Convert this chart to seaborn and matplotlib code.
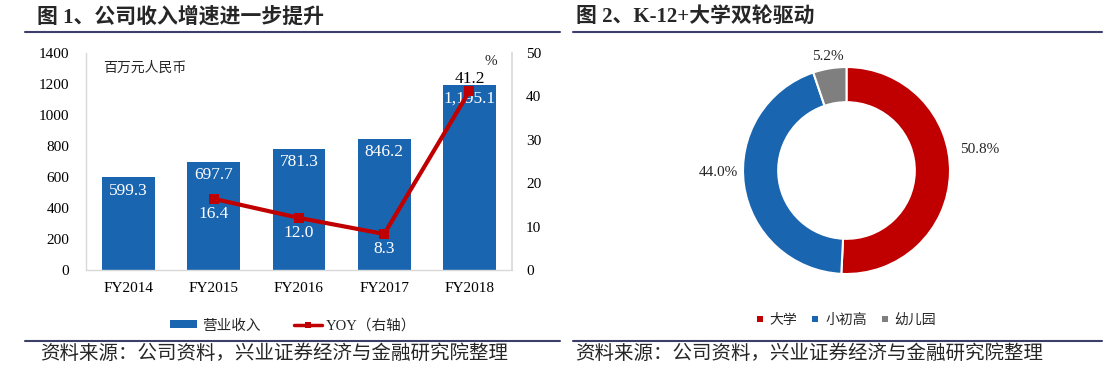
import numpy as np
import matplotlib
matplotlib.use("Agg")
import matplotlib.pyplot as plt
import seaborn as sns
from matplotlib.lines import Line2D
from matplotlib.patches import Patch

# chart data
years = ["FY2014", "FY2015", "FY2016", "FY2017", "FY2018"]
revenue = [599.3, 697.7, 781.3, 846.2, 1195.1]
revenue_labels = ["599.3", "697.7", "781.3", "846.2", "1,195.1"]
yoy_years = ["FY2015", "FY2016", "FY2017", "FY2018"]
yoy = [16.4, 12.0, 8.3, 41.2]

segments = ["大学", "小初高", "幼儿园"]
shares = [50.8, 44.0, 5.2]

left_ticks = [0, 200, 400, 600, 800, 1000, 1200, 1400]
right_ticks = [0, 10, 20, 30, 40, 50]

title_1 = "图 1、公司收入增速进一步提升"
title_2 = "图 2、K-12+大学双轮驱动"
source = "资料来源：公司资料，兴业证券经济与金融研究院整理"

sns.set_theme(style="white")
plt.rcParams["font.family"] = ["Liberation Serif", "Noto Sans CJK SC"]

BLUE = "#1A65B0"
RED = "#C00000"
GRAY = "#7F7F7F"
SPINE = "#D9D9D9"
RULE = "#3D3F6B"

W, H = 1116, 368
fig = plt.figure(figsize=(W / 100, H / 100), dpi=100)


def box(x0, y0, x1, y1):
    # pixel box (top-left origin) -> figure fraction
    return [x0 / W, 1 - y1 / H, (x1 - x0) / W, (y1 - y0) / H]


# ---------- left: revenue bars + YOY line ----------
ax = fig.add_axes(box(86, 53, 512, 270))
sns.barplot(x=years, y=revenue, color=BLUE, width=0.62, linewidth=0, saturation=1, ax=ax)
ax.set_xlim(-0.5, len(years) - 0.5)
ax.set_ylim(0, 1400)
ax.set_yticks(left_ticks)
ax.set_xlabel("")
ax.set_ylabel("")
ax.tick_params(axis="both", length=0, labelsize=11, colors="black")
ax.tick_params(axis="y", pad=12)
ax.tick_params(axis="x", pad=9)
for s in ["top", "right"]:
    ax.spines[s].set_visible(False)
for s in ["left", "bottom"]:
    ax.spines[s].set_color(SPINE)
    ax.spines[s].set_linewidth(1)

for i, (v, lab) in enumerate(zip(revenue, revenue_labels)):
    ax.annotate(lab, (i, v), xytext=(0, -4), textcoords="offset points",
                ha="center", va="top", color="white", fontsize=12.5)

ax.text(0.04, 0.93, "百万元人民币", transform=ax.transAxes, fontsize=10,
        ha="left", va="center")

ax2 = ax.twinx()
xpos = [years.index(y) for y in yoy_years]
sns.lineplot(x=xpos, y=yoy, color=RED, linewidth=3, marker="s", markersize=7,
             markeredgewidth=0, ax=ax2)
ax2.set_xlim(-0.5, len(years) - 0.5)
ax2.set_ylim(0, 50)
ax2.set_yticks(right_ticks)
ax2.set_ylabel("")
ax2.tick_params(axis="y", length=0, labelsize=11, pad=10, colors="black")
for s in ["top", "left", "bottom"]:
    ax2.spines[s].set_visible(False)
ax2.spines["right"].set_color(SPINE)
top_i = int(np.argmax(yoy))
for i, (x, v) in enumerate(zip(xpos, yoy)):
    if i == top_i:
        ax2.annotate(f"{v:.1f}", (x, v), xytext=(0, 3), textcoords="offset points",
                     ha="center", va="bottom", color="black", fontsize=12.5)
    else:
        ax2.annotate(f"{v:.1f}", (x, v), xytext=(0, -5), textcoords="offset points",
                     ha="center", va="top", color="white", fontsize=12.5)
ax2.text(0.95, 0.96, "%", transform=ax2.transAxes, fontsize=11, ha="center", va="center")

fig.legend(
    handles=[Patch(facecolor=BLUE, edgecolor="none"),
             Line2D([], [], color=RED, lw=2.5, marker="s", markersize=5, markeredgewidth=0)],
    labels=["营业收入", "YOY（右轴）"],
    loc="center", bbox_to_anchor=(293 / W, 1 - 325.5 / H), ncol=2, frameon=False,
    fontsize=10.5, handlelength=1.9, handleheight=0.5, handletextpad=0.3, columnspacing=2.3,
)

# ---------- right: donut ----------
cx, cy, r = 846.5, 170.5, 103.5
axp = fig.add_axes(box(cx - r, cy - r, cx + r, cy + r))
wedges, _ = axp.pie(shares, colors=[RED, BLUE, GRAY], startangle=90, counterclock=False,
                    radius=1, wedgeprops=dict(width=0.34, edgecolor="white", linewidth=1.5))
axp.set_xlim(-1, 1)
axp.set_ylim(-1, 1)
axp.set_aspect("equal")
label_dist = [1.30, 1.24, 1.12]
angle_shift = [10.6, -7.0, 0.0]
for w, v, d, da in zip(wedges, shares, label_dist, angle_shift):
    ang = np.deg2rad((w.theta1 + w.theta2) / 2 + da)
    axp.text(d * np.cos(ang), d * np.sin(ang), f"{v:.1f}%", ha="center", va="center",
             fontsize=11, color="#262626")

fig.legend(
    handles=[Line2D([], [], ls="", marker="s", markersize=4.5, color=c, markeredgewidth=0)
             for c in [RED, BLUE, GRAY]],
    labels=segments, loc="center", bbox_to_anchor=(846 / W, 1 - 320 / H), ncol=3,
    frameon=False, fontsize=10, handlelength=0.6, handletextpad=0.4, columnspacing=1.0,
)

# ---------- titles, rules, sources ----------
fig.text(37 / W, 1 - 17 / H, title_1, fontsize=15, fontweight="bold", ha="left", va="center")
fig.text(576 / W, 1 - 17 / H, title_2, fontsize=15, fontweight="bold", ha="left", va="center")
for x0, x1 in [(25, 560), (573, 1102)]:
    for y in [32, 341]:
        fig.add_artist(Line2D([x0 / W, x1 / W], [1 - y / H, 1 - y / H],
                              transform=fig.transFigure, color=RULE, lw=1.5))
fig.text(40 / W, 1 - 354 / H, source, fontsize=14, ha="left", va="center")
fig.text(575 / W, 1 - 354 / H, source, fontsize=14, ha="left", va="center")

fig.savefig("out.png", dpi=100, facecolor="white")
